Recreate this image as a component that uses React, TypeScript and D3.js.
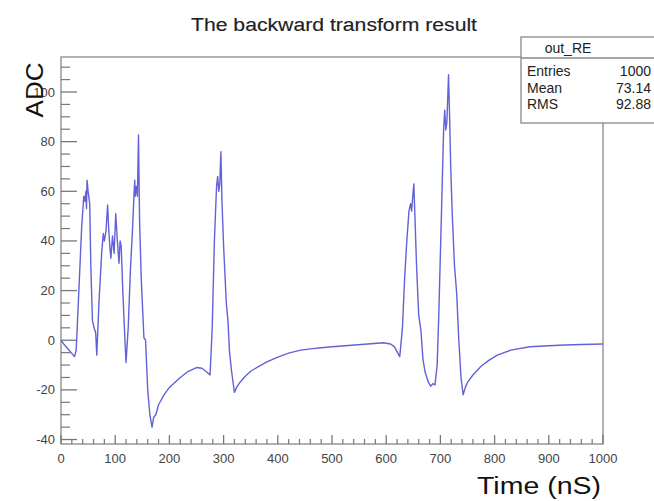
import React from "react";
import * as d3 from "d3";

const title = "The backward transform result";
const xLabel = "Time (nS)";
const yLabel = "ADC";
const statsTitle = "out_RE";
const statsNames = ["Entries", "Mean", "RMS"];
const statsValues = ["1000", "73.14", "92.88"];

const xTicks = [0, 100, 200, 300, 400, 500, 600, 700, 800, 900, 1000];
const yTicks = [-40, -20, 0, 20, 40, 60, 80, 100];

const times = [
  0, 5, 15, 25, 28, 33, 38, 42, 44, 46, 47, 48, 50, 53, 55, 58, 61, 64, 66, 70,
  75, 78, 80, 83, 86, 88, 90, 92, 95, 98, 101, 104, 107, 109, 111, 114, 118, 120, 124, 128,
  132, 135, 136, 137, 139, 141, 143, 145, 148, 153, 156, 160, 164, 168, 171, 175, 180, 190, 200, 210,
  220, 235, 250, 260, 270, 275, 279, 283, 287, 289, 291, 293, 295, 297, 300, 305, 308, 311, 315, 320,
  324, 330, 340, 350, 365, 380, 400, 420, 440, 460, 480, 500, 530, 560, 595, 608, 615, 625, 630, 634,
  638, 642, 645, 647, 649, 651, 653, 656, 660, 664, 668, 672, 678, 682, 686, 690, 694, 697, 700, 703,
  706, 708, 710, 712, 715, 717, 719, 722, 726, 730, 734, 738, 742, 746, 750, 760, 775, 790, 805, 830,
  865, 900, 930, 960, 1000,
];
const adc = [
  0, -1.5, -4, -6.6, -4, 20, 45, 58, 56, 60, 53, 64.5, 60, 55, 30, 8, 5, 3, -6, 15,
  35, 43, 40, 44, 54.5, 45, 38, 33, 42, 35, 51, 40, 31, 40, 38, 20, 0, -9, 5, 28,
  45, 60, 64.5, 58, 62, 58, 82.7, 48, 25, 1, 0, -20, -30, -35, -31, -30, -26, -22, -19, -17,
  -15, -12.5, -11, -11.3, -13, -14, 5, 40, 62, 66, 60, 63, 76, 56, 38, 15, 8, -5, -13, -21,
  -19, -17, -14.5, -12.5, -10.5, -8.7, -6.8, -5.2, -4.1, -3.5, -3, -2.6, -2.1, -1.6, -1, -1.5, -2.6, -6.6, 5, 25,
  40, 52, 55, 52, 58, 63, 50, 30, 10, 4, -8, -13, -17, -18.5, -17.5, -18, -10, 10, 35, 60,
  85, 92.7, 84.7, 88, 107, 90, 70, 50, 30, 19, 0, -15, -22, -19, -17, -14, -10.5, -8, -6, -4,
  -2.6, -2.2, -1.9, -1.7, -1.5,
];

const W = 654;
const H = 501;
const frame = { left: 61, right: 603, top: 57, bottom: 444 };
const FONT = "'Liberation Sans', Arial, Helvetica, sans-serif";

export default function App() {
  const x = d3.scaleLinear().domain([0, 1000]).range([frame.left, frame.right]);
  const y = d3.scaleLinear().domain([-41.8, 114.1]).range([frame.bottom, frame.top]);

  const pts: [number, number][] = times.map((t, i) => [t, adc[i]]);
  const line = d3
    .line<[number, number]>()
    .x((d) => x(d[0]))
    .y((d) => y(d[1]));

  const xMinor = d3.range(0, 1001, 20).filter((v) => v % 100 !== 0);
  const yMinor = d3.range(-40, 114, 5).filter((v) => v % 20 !== 0);

  const tickColor = "#777";
  const labelColor = "#444";

  return (
    <svg
      width={W}
      height={H}
      style={{ position: "absolute", left: 0, top: 0, background: "#fff" }}
      fontFamily={FONT}
    >
      <rect x={0} y={0} width={W} height={H} fill="#fff" />
      {/* title */}
      <text
        x={334}
        y={31}
        textAnchor="middle"
        fontSize={18}
        fill="#222"
        stroke="#222"
        strokeWidth={0.15}
        textLength={286}
        lengthAdjust="spacingAndGlyphs"
      >
        {title}
      </text>

      {/* frame */}
      <rect
        x={frame.left}
        y={frame.top}
        width={frame.right - frame.left}
        height={frame.bottom - frame.top}
        fill="none"
        stroke="#888"
        strokeWidth={1.3}
      />

      {/* y ticks */}
      {yTicks.map((v) => (
        <g key={"yt" + v}>
          <line x1={frame.left} x2={frame.left + 16} y1={y(v)} y2={y(v)} stroke={tickColor} strokeWidth={1.3} />
          <text x={frame.left - 6} y={y(v) + 4.5} textAnchor="end" fontSize={13} fill={labelColor}>
            {v}
          </text>
        </g>
      ))}
      {yMinor.map((v) => (
        <line key={"ym" + v} x1={frame.left} x2={frame.left + 9} y1={y(v)} y2={y(v)} stroke={tickColor} strokeWidth={1.2} />
      ))}

      {/* x ticks */}
      {xTicks.map((v) => (
        <g key={"xt" + v}>
          <line x1={x(v)} x2={x(v)} y1={frame.bottom} y2={frame.bottom - 9} stroke={tickColor} strokeWidth={1.3} />
          <text x={x(v)} y={frame.bottom + 19} textAnchor="middle" fontSize={13} fill={labelColor}>
            {v}
          </text>
        </g>
      ))}
      {xMinor.map((v) => (
        <line key={"xm" + v} x1={x(v)} x2={x(v)} y1={frame.bottom} y2={frame.bottom - 5} stroke={tickColor} strokeWidth={1.2} />
      ))}

      {/* data */}
      <path d={line(pts) || ""} fill="none" stroke="#6262d8" strokeWidth={1.4} strokeLinejoin="round" />

      {/* axis titles */}
      <text
        transform={`translate(43, 90) rotate(-90)`}
        textAnchor="middle"
        fontSize={24}
        fill="#111"
        textLength={55}
        lengthAdjust="spacingAndGlyphs"
      >
        {yLabel}
      </text>
      <text
        x={601}
        y={494}
        textAnchor="end"
        fontSize={23}
        fill="#111"
        textLength={124}
        lengthAdjust="spacingAndGlyphs"
      >
        {xLabel}
      </text>

      {/* stats box */}
      <rect x={521} y={37} width={134} height={86} fill="#fff" stroke="#888" strokeWidth={1.3} />
      <line x1={521} x2={655} y1={58} y2={58} stroke="#888" strokeWidth={1.3} />
      <text x={568} y={53} textAnchor="middle" fontSize={14} fill="#222">
        {statsTitle}
      </text>
      {statsNames.map((n, i) => (
        <g key={n}>
          <text x={527} y={76 + i * 16.5} fontSize={14} fill="#222">
            {n}
          </text>
          <text x={651} y={76 + i * 16.5} textAnchor="end" fontSize={14} fill="#222">
            {statsValues[i]}
          </text>
        </g>
      ))}
    </svg>
  );
}
